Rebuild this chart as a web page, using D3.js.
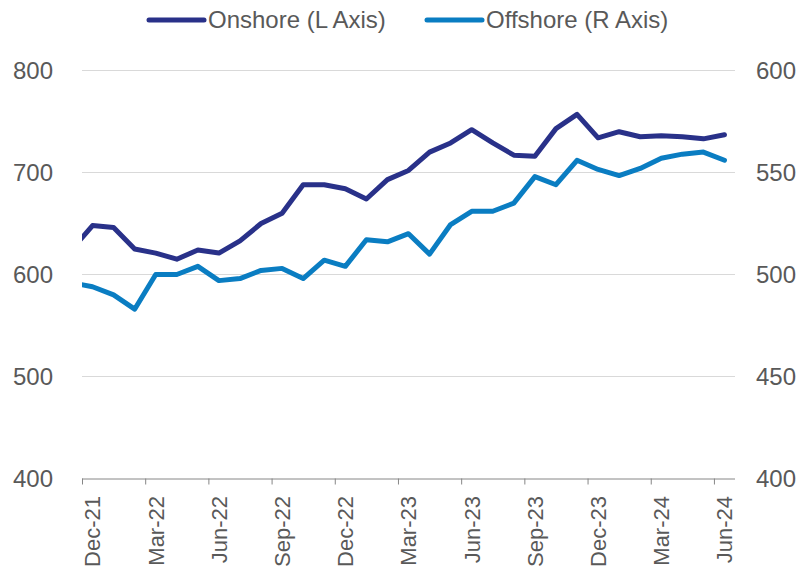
<!DOCTYPE html>
<html>
<head>
<meta charset="utf-8">
<script src="https://cdn.jsdelivr.net/npm/d3@7"></script>
<style>
  body { margin: 0; background: #fff; }
  svg text { font-family: "Liberation Sans", Arial, sans-serif; fill: #595959; }
</style>
</head>
<body>
<svg width="800" height="569"></svg>
<script>
// months from Nov-21 to Jun-24 (Nov-21 sits just off the left edge and is clipped)
var months = ["Nov-21","Dec-21","Jan-22","Feb-22","Mar-22","Apr-22","May-22","Jun-22","Jul-22","Aug-22","Sep-22","Oct-22",
  "Nov-22","Dec-22","Jan-23","Feb-23","Mar-23","Apr-23","May-23","Jun-23","Jul-23","Aug-23","Sep-23","Oct-23",
  "Nov-23","Dec-23","Jan-24","Feb-24","Mar-24","Apr-24","May-24","Jun-24"];
var onshore = [624, 648, 646, 625, 621, 615, 624, 621, 633, 650, 660, 688,
  688, 684, 674, 693, 702, 720, 729, 742, 729, 717, 716, 743,
  757, 734, 740, 735, 736, 735, 733, 737];
var offshore = [496, 494, 490, 483, 500, 500, 504, 497, 498, 502, 503, 498,
  507, 504, 517, 516, 520, 510, 524.5, 531, 531, 535, 548, 544,
  556, 551.5, 548.5, 552, 557, 559, 560, 556];
var tickLabels = ["Dec-21","Mar-22","Jun-22","Sep-22","Dec-22","Mar-23","Jun-23","Sep-23","Dec-23","Mar-24","Jun-24"];
var leftTicks = [400, 500, 600, 700, 800];
var rightTicks = [400, 450, 500, 550, 600];

var svg = d3.select("svg");
var plotLeft = 82, plotRight = 735, plotTop = 70.5, plotBottom = 478.5;

// month index: 0 = start of Dec-21, 31 = start of Jul-24
var x = d3.scaleLinear().domain([0, 31]).range([plotLeft, plotRight]);
var yL = d3.scaleLinear().domain([400, 800]).range([plotBottom, plotTop]);
var yR = d3.scaleLinear().domain([400, 600]).range([plotBottom, plotTop]);

function monthPos(i) { return x(i - 1 + 0.5); } // i is index into months

svg.append("defs").append("clipPath").attr("id", "plot")
  .append("rect").attr("x", plotLeft).attr("y", 0).attr("width", plotRight - plotLeft).attr("height", 569);

// gridlines
svg.append("g").selectAll("line")
  .data(leftTicks.slice(1))
  .enter().append("line")
  .attr("x1", plotLeft).attr("x2", plotRight)
  .attr("y1", function (d) { return yL(d); })
  .attr("y2", function (d) { return yL(d); })
  .attr("stroke", "#d9d9d9").attr("stroke-width", 1);

// left axis
var gl = svg.append("g").attr("transform", "translate(" + plotLeft + ",0)")
  .call(d3.axisLeft(yL).tickValues(leftTicks).tickSize(0).tickPadding(29));
gl.select(".domain").remove();
gl.selectAll("text").style("font-size", "24px").attr("fill", "#595959");

// right axis
var gr = svg.append("g").attr("transform", "translate(" + plotRight + ",0)")
  .call(d3.axisRight(yR).tickValues(rightTicks).tickSize(0).tickPadding(21));
gr.select(".domain").remove();
gr.selectAll("text").style("font-size", "24px").attr("fill", "#595959");

// bottom axis
var gx = svg.append("g").attr("transform", "translate(0," + plotBottom + ")")
  .call(d3.axisBottom(x).tickValues(d3.range(0, 31, 3)).tickSize(6).tickFormat(""));
gx.select(".domain").attr("d", "M" + plotLeft + ",0.5H" + plotRight).attr("stroke", "#868686");
gx.selectAll(".tick line").attr("stroke", "#868686");

svg.append("g").selectAll("text")
  .data(tickLabels)
  .enter().append("text")
  .attr("transform", function (d, i) { return "translate(" + x(i * 3 + 0.5) + ",496) rotate(-90)"; })
  .attr("text-anchor", "end")
  .attr("dy", "0.36em")
  .style("font-size", "22px")
  .text(function (d) { return d; });

// lines
var lineL = d3.line().x(function (d, i) { return monthPos(i); }).y(function (d) { return yL(d); });
var lineR = d3.line().x(function (d, i) { return monthPos(i); }).y(function (d) { return yR(d); });

var lines = svg.append("g").attr("clip-path", "url(#plot)");
lines.append("path").datum(offshore)
  .attr("d", lineR).attr("fill", "none")
  .attr("stroke", "#0A7DC2").attr("stroke-width", 5).attr("stroke-linejoin", "round").attr("stroke-linecap", "round");
lines.append("path").datum(onshore)
  .attr("d", lineL).attr("fill", "none")
  .attr("stroke", "#293189").attr("stroke-width", 5).attr("stroke-linejoin", "round").attr("stroke-linecap", "round");

// legend
var legend = [
  { name: "Onshore (L Axis)", color: "#293189", x: 149 },
  { name: "Offshore (R Axis)", color: "#0A7DC2", x: 427 }
];
var lg = svg.append("g").selectAll("g").data(legend).enter().append("g")
  .attr("transform", function (d) { return "translate(" + d.x + ",20)"; });
lg.append("line").attr("x1", 0).attr("x2", 55).attr("y1", 0).attr("y2", 0)
  .attr("stroke", function (d) { return d.color; }).attr("stroke-width", 5).attr("stroke-linecap", "round");
lg.append("text").attr("x", 59).attr("dy", "0.35em").style("font-size", "24px")
  .text(function (d) { return d.name; });
</script>
</body>
</html>
